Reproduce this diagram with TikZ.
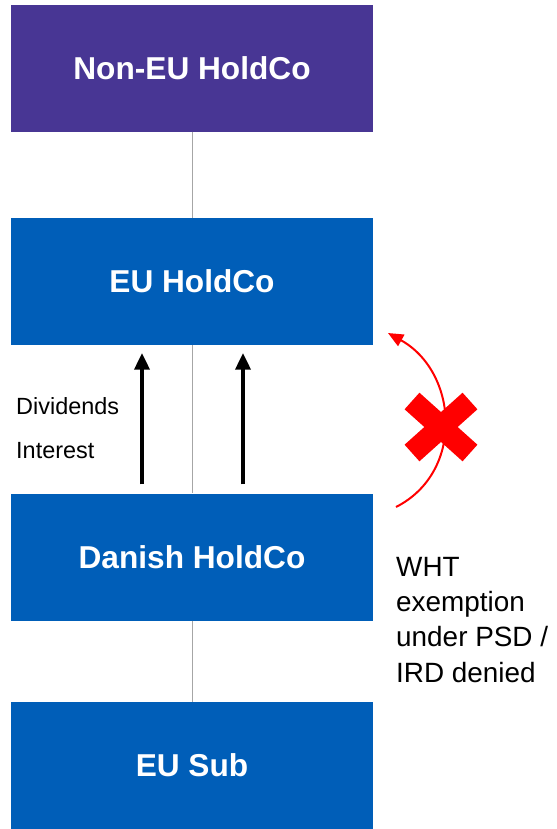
\documentclass[tikz,border=0pt]{standalone}
\usepackage{fontspec}
\setmainfont{Liberation Sans}
\usetikzlibrary{arrows.meta}

\definecolor{holdpurple}{RGB}{72,54,148}
\definecolor{holdblue}{RGB}{0,94,184}
\definecolor{linkgray}{RGB}{166,166,166}

\begin{document}
\begin{tikzpicture}[x=0.03cm, y=-0.03cm,
    entity/.style={minimum width=10.86cm, minimum height=3.81cm, inner sep=0pt,
                   text=white, font=\fontsize{27}{32}\selectfont\bfseries},
    link/.style={linkgray, line width=0.8pt},
    flow/.style={line width=2.6pt, -{Triangle[length=14pt, width=13pt]}},
    label/.style={inner sep=0pt, anchor=base west, font=\fontsize{20}{24}\selectfont}]

  \useasboundingbox (0,0) rectangle (557,829);

  % Entities:
  \node[entity, fill=holdpurple] (nonEU)  at (192, 68.0) {Non-EU HoldCo};
  \node[entity, fill=holdblue]   (euHold) at (192,281.5) {EU HoldCo};
  \node[entity, fill=holdblue]   (danish) at (192,557.0) {Danish HoldCo};
  \node[entity, fill=holdblue]   (euSub)  at (192,765.5) {EU Sub};

  % Ownership lines:
  \draw[link] (nonEU.south)  -- (euHold.north);
  \draw[link] (euHold.south) -- (danish.north);
  \draw[link] (danish.south) -- (euSub.north);

  % Payments up to EU HoldCo:
  \draw[flow] ([shift={(-50,-9)}]danish.north) -- ([shift={(-50,8)}]euHold.south);
  \draw[flow] ([shift={(51,-9)}]danish.north)  -- ([shift={(51,8)}]euHold.south);
  \node[label] (div) at (16,414) {Dividends};
  \node[label] (int) at (16,458) {Interest};

  % Denied exemption:
  \coordinate (wFrom) at (396,507);
  \coordinate (wTo)   at (388,333);
  \draw[red, line width=1.7pt, -{Triangle[length=13pt, width=11pt]}]
    (wFrom) .. controls (465,472) and (458,372) .. (wTo);
  \draw[red, line width=19pt] (412,401) -- (470,453);
  \draw[red, line width=19pt] (412,453) -- (470,401);
  \node[inner sep=0pt, anchor=base west, align=left,
        font=\fontsize{23.8}{29.9}\selectfont] (wht) at (396,682)
    {WHT\\exemption\\under PSD /\\IRD denied};

\end{tikzpicture}
\end{document}
